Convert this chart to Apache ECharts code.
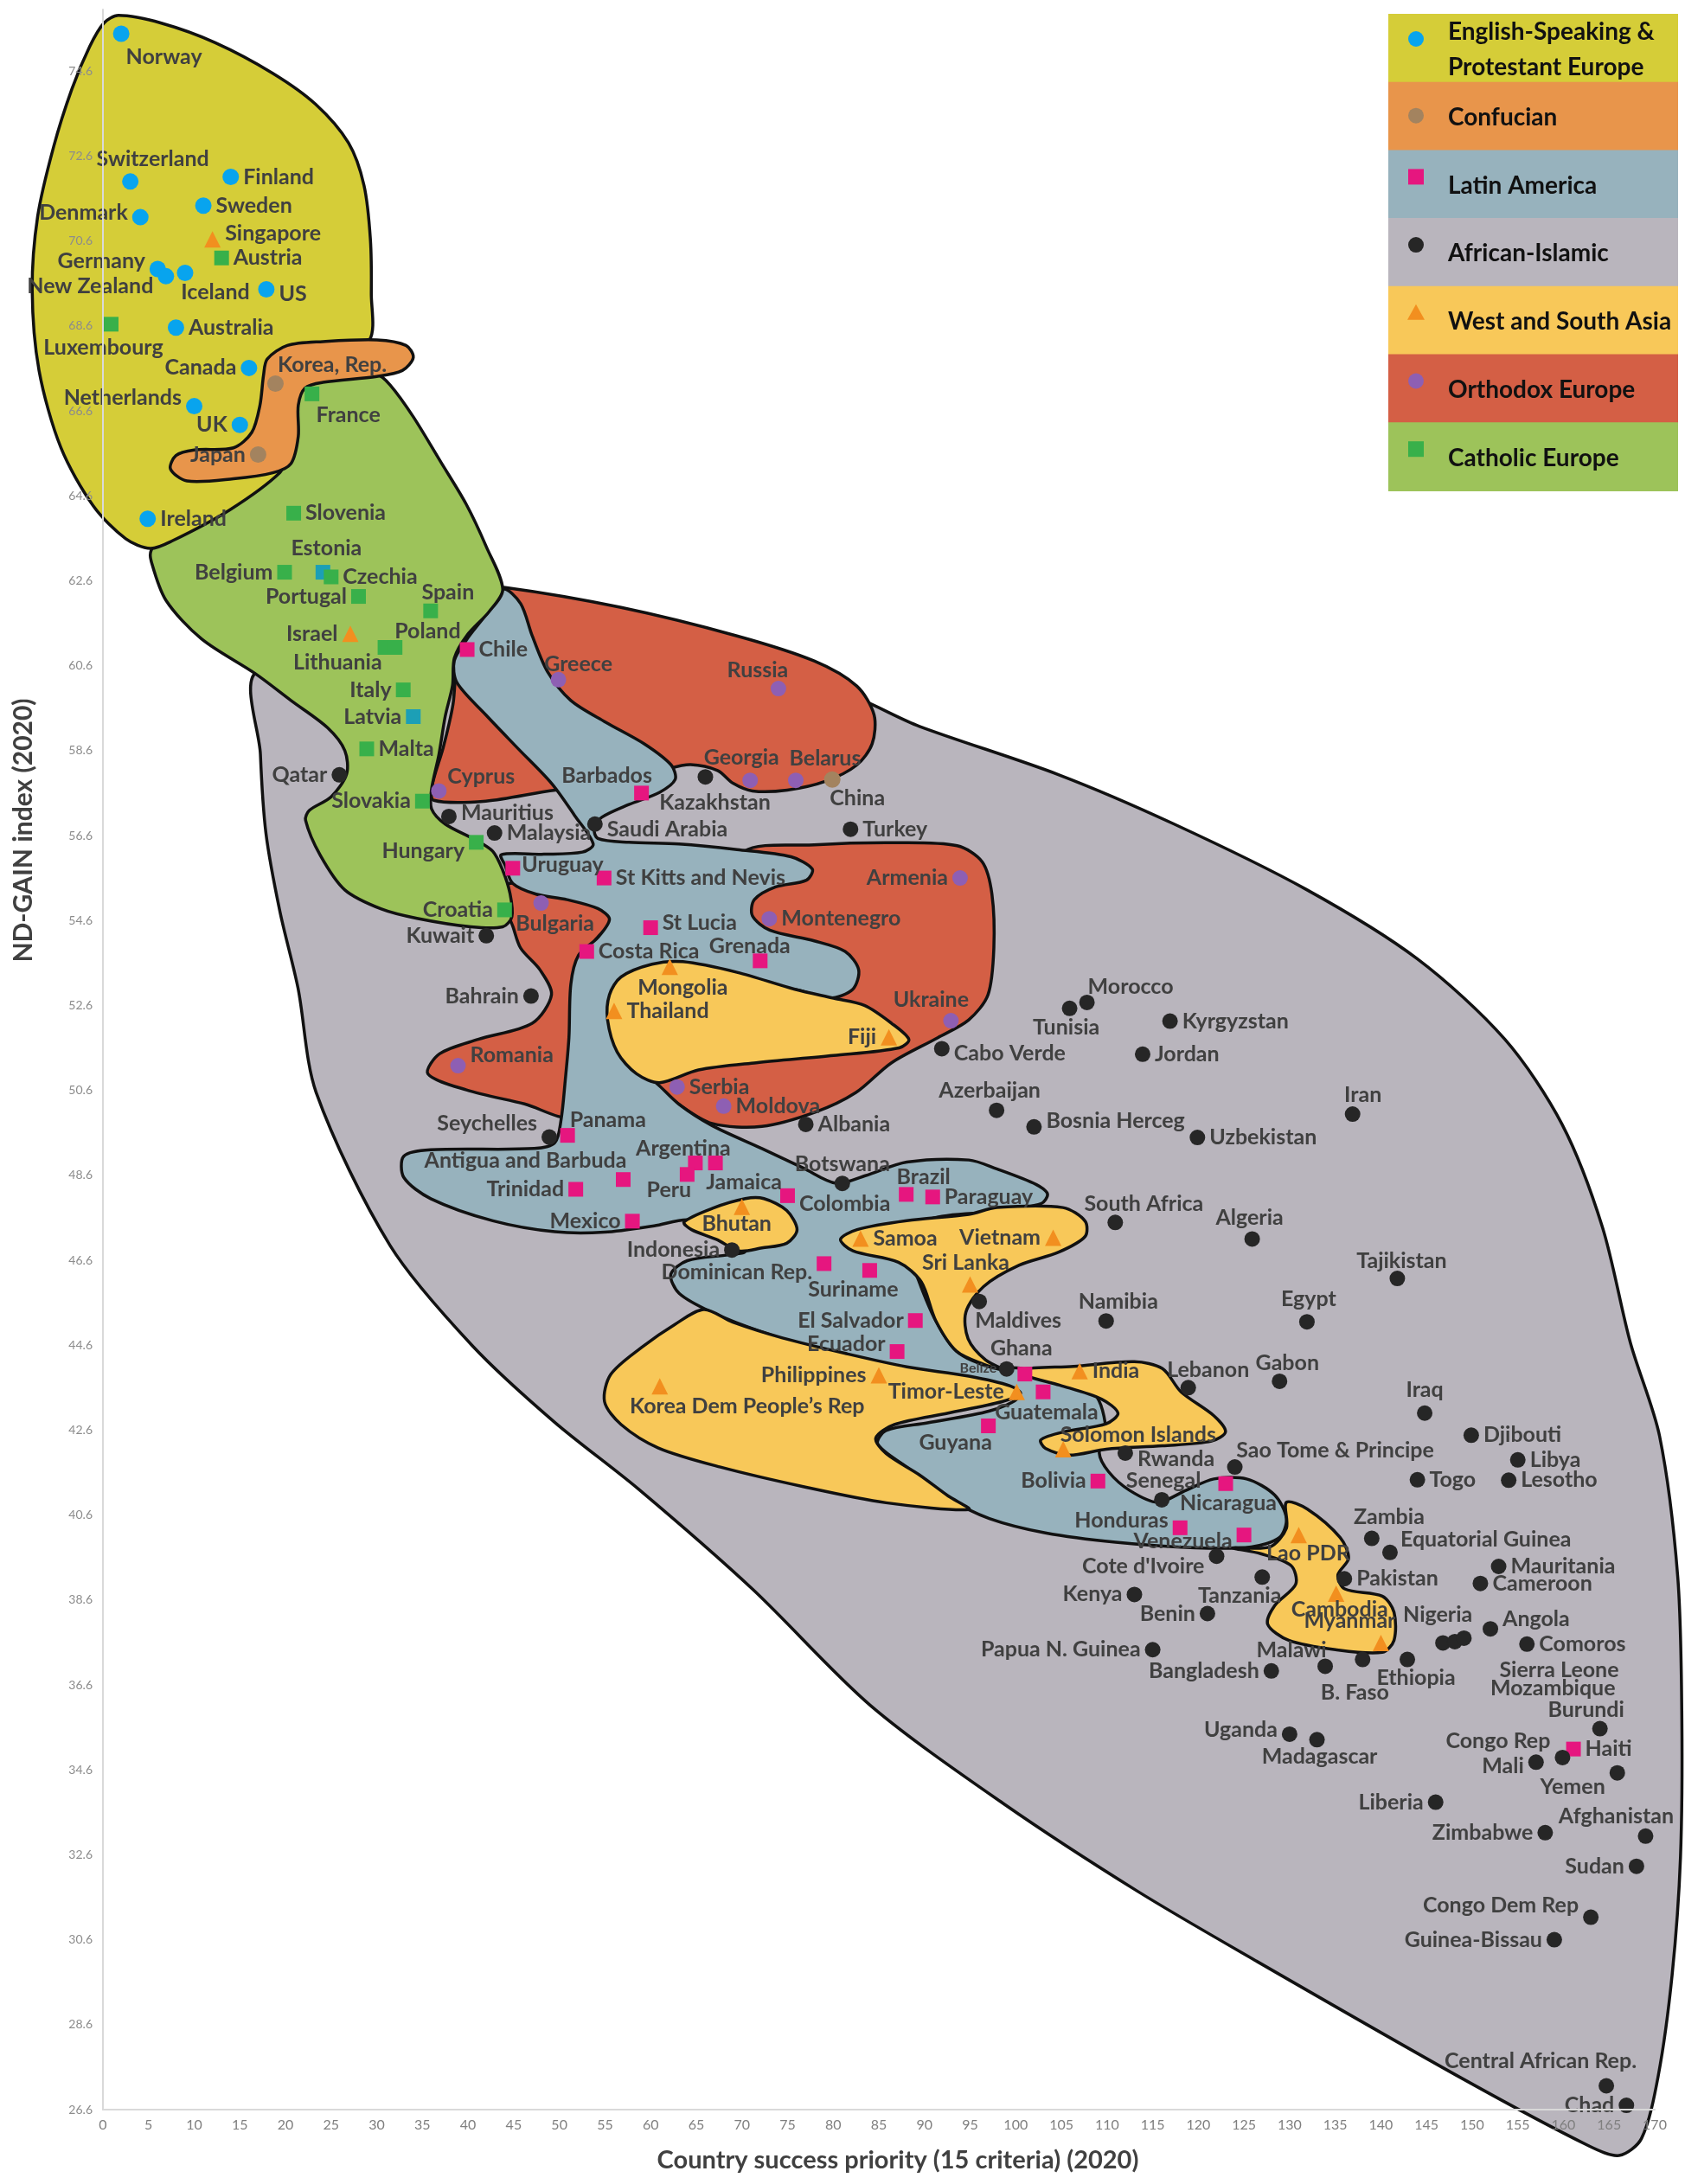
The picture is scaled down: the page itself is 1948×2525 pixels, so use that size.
<!DOCTYPE html>
<html><head><meta charset="utf-8">
<script src="https://cdn.jsdelivr.net/npm/echarts@6/dist/echarts.min.js"></script>
<style>html,body{margin:0;padding:0;background:#fff}#c{width:1948px;height:2525px}</style>
</head><body><div id="c"></div>
<script>
// ---------- DATA ----------
const categories = ['English-Speaking & Protestant Europe','Confucian','Latin America','African-Islamic','West and South Asia','Orthodox Europe','Catholic Europe'];
const yTickValues = [26.6,28.6,30.6,32.6,34.6,36.6,38.6,40.6,42.6,44.6,46.6,48.6,50.6,52.6,54.6,56.6,58.6,60.6,62.6,64.6,66.6,68.6,70.6,72.6,74.6];

const englishSpeaking = [['Norway',2.0,75.48],['Switzerland',3.0,72.0],['Finland',14.0,72.11],['Sweden',11.0,71.43],['Denmark',4.1,71.16],['Germany',6.0,69.94],['New Zealand',6.9,69.77],['Iceland',9.0,69.85],['US',17.9,69.46],['Australia',8.0,68.56],['Canada',16.0,67.61],['Netherlands',10.0,66.71],['UK',15.0,66.27],['Ireland',4.9,64.06]];
const confucian = [['Korea, Rep.',18.9,67.24],['Japan',17.0,65.57],['China',79.9,57.92]];
const latinAmerica = [['Chile',39.9,60.98],['Barbados',59.0,57.6],['Uruguay',44.9,55.83],['St Kitts and Nevis',54.9,55.6],['St Lucia',60.0,54.43],['Costa Rica',53.0,53.87],['Grenada',72.0,53.65],['Panama',50.9,49.54],['Antigua and Barbuda',57.0,48.5],['Trinidad',51.8,48.27],['Argentina',64.9,48.89],['Jamaica',67.1,48.89],['Peru',64.0,48.62],['Mexico',58.0,47.52],['Colombia',75.0,48.12],['Brazil',88.0,48.15],['Paraguay',90.9,48.09],['Dominican Rep.',79.0,46.52],['Suriname',84.0,46.36],['El Salvador',89.0,45.18],['Ecuador',87.0,44.45],['Belize',101.0,43.92],['Guatemala',103.0,43.5],['Guyana',97.0,42.7],['Bolivia',109.0,41.4],['Nicaragua',123.0,41.34],['Honduras',118.0,40.3],['Venezuela',125.0,40.13],['Haiti',161.1,35.09]];
const africanIslamic = [['Qatar',25.9,58.03],['Kazakhstan',66.0,57.98],['Saudi Arabia',53.9,56.87],['Mauritius',37.9,57.05],['Malaysia',42.9,56.66],['Turkey',81.9,56.75],['Kuwait',42.0,54.24],['Bahrain',46.9,52.82],['Cabo Verde',91.9,51.58],['Morocco',107.8,52.67],['Tunisia',105.9,52.53],['Kyrgyzstan',116.9,52.23],['Jordan',113.9,51.45],['Azerbaijan',97.9,50.13],['Albania',77.0,49.8],['Bosnia Herceg',102.0,49.74],['Uzbekistan',119.9,49.49],['Iran',136.9,50.04],['Seychelles',48.9,49.5],['Botswana',81.0,48.41],['Indonesia',68.9,46.84],['South Africa',110.9,47.49],['Algeria',125.9,47.1],['Tajikistan',141.8,46.17],['Maldives',96.0,45.63],['Namibia',109.9,45.17],['Egypt',131.9,45.15],['Ghana',99.0,44.04],['Lebanon',118.9,43.6],['Gabon',128.9,43.75],['Iraq',144.8,43.0],['Djibouti',149.9,42.48],['Libya',155.0,41.9],['Lesotho',154.0,41.42],['Togo',144.0,41.43],['Rwanda',112.0,42.06],['Sao Tome & Principe',124.0,41.73],['Senegal',116.0,40.96],['Zambia',139.0,40.05],['Equatorial Guinea',141.0,39.72],["Cote d'Ivoire",122.0,39.63],['Mauritania',152.9,39.39],['Cameroon',150.9,38.99],['Pakistan',136.0,39.1],['Tanzania',127.0,39.14],['Kenya',113.0,38.73],['Benin',121.0,38.28],['Nigeria',146.8,37.59],['Mozambique',148.1,37.62],['Sierra Leone',149.1,37.7],['Angola',152.0,37.92],['Comoros',156.0,37.56],['Papua N. Guinea',115.0,37.43],['Malawi',133.9,37.04],['Bangladesh',128.0,36.93],['B. Faso',138.0,37.2],['Ethiopia',142.9,37.2],['Uganda',130.0,35.44],['Madagascar',133.0,35.31],['Burundi',164.0,35.57],['Congo Rep',159.9,34.89],['Mali',157.0,34.78],['Yemen',165.9,34.53],['Liberia',146.0,33.84],['Zimbabwe',158.0,33.12],['Afghanistan',169.0,33.04],['Sudan',168.0,32.33],['Congo Dem Rep',163.0,31.13],['Guinea-Bissau',159.0,30.6],['Central African Rep.',164.7,27.16],['Chad',166.9,26.7]];
const westSouthAsia = [['Singapore',12.0,70.64],['Israel',27.1,61.35],['Mongolia',62.1,53.51],['Thailand',56.0,52.47],['Fiji',86.1,51.85],['Bhutan',70.0,47.86],['Samoa',83.0,47.11],['Vietnam',104.1,47.13],['Sri Lanka',95.0,46.03],['Korea Dem People\u2019s Rep',61.0,43.63],['Philippines',85.0,43.89],['Timor-Leste',100.1,43.5],['India',107.0,43.99],['Solomon Islands',105.2,42.15],['Lao PDR',131.0,40.13],['Cambodia',135.1,38.75],['Myanmar',140.0,37.59]];
const orthodoxEurope = [['Greece',49.9,60.27],['Russia',74.0,60.06],['Cyprus',36.8,57.65],['Georgia',70.9,57.9],['Belarus',75.9,57.9],['Armenia',93.9,55.6],['Montenegro',73.0,54.64],['Bulgaria',48.0,55.01],['Ukraine',92.9,52.24],['Romania',38.9,51.18],['Serbia',62.9,50.68],['Moldova',68.0,50.23]];
const catholicEurope = [['Austria',13.0,70.2],['Luxembourg',0.9,68.64],['France',22.9,67.0],['Slovenia',20.9,64.19],['Belgium',19.9,62.8],['Estonia',24.1,62.8],['Czechia',25.0,62.69],['Portugal',28.0,62.23],['Spain',35.9,61.89],['Lithuania',30.9,61.03],['Poland',32.0,61.03],['Italy',32.9,60.03],['Latvia',34.0,59.4],['Malta',28.9,58.64],['Slovakia',35.0,57.41],['Hungary',40.9,56.44],['Croatia',44.0,54.85]];
const tealMarked = ['Estonia','Latvia'];

// Region outlines (data units: [x, y])
const africanOutline = [[17.10,60.48],[49.77,60.81],[80.30,59.99],[89.46,59.17],[104.73,58.03],[117.25,56.88],[131.75,55.34],[143.97,53.70],[153.59,51.80],[159.85,49.80],[164.27,47.38],[167.33,44.66],[170.53,42.46],[172.52,39.15],[172.97,35.84],[172.82,32.53],[171.91,29.78],[170.38,27.39],[168.55,25.92],[166.10,25.52],[162.75,25.75],[149.01,27.32],[126.26,30.11],[113.28,31.75],[98.62,33.81],[84.12,36.11],[71.14,38.86],[58.62,41.22],[49.46,42.79],[40.46,44.59],[31.45,46.95],[23.36,50.55],[21.37,53.01],[19.39,54.81],[17.86,56.65],[17.25,58.52]];
const orthodoxOutlineA = [[44.07,62.44],[56.76,61.97],[69.46,61.30],[77.92,60.71],[82.58,60.12],[84.48,59.44],[84.27,58.76],[82.58,58.26],[79.19,57.88],[74.96,57.67],[71.15,57.65],[69.03,57.83],[67.34,58.13],[64.38,58.27],[61.84,58.17],[55.07,57.75],[49.57,57.67],[41.95,57.41],[36.24,57.43],[36.03,57.75],[37.29,58.68],[38.35,59.69],[38.78,60.71],[39.83,61.55],[41.95,62.4]];
const orthodoxOutlineC = [[70.30,56.23],[77.92,56.38],[86.39,56.43],[93.58,56.36],[96.33,55.98],[97.39,55.22],[97.60,53.95],[96.96,52.85],[94.85,52.26],[91.46,51.84],[86.39,51.25],[82.5,50.55],[78.08,50.09],[72.19,49.75],[66.74,49.82],[63.12,50.27],[60.39,50.77],[62.0,52.0],[67.0,53.0],[70.5,54.0],[70.8,55.2]];
const orthodoxOutlineD = [[44.49,55.47],[49.14,55.26],[53.80,55.01],[55.92,54.71],[55.07,54.41],[53.38,53.95],[52.95,52.68],[52.53,50.99],[51.26,49.98],[46.18,50.28],[39.83,50.61],[35.6,50.99],[36.87,51.46],[41.1,51.8],[47.03,52.18],[49.14,52.85],[47.87,53.44],[45.76,53.95],[44.91,54.46],[44.07,54.96]];
const latinOutline = [[43.85,62.40],[45.76,62.06],[47.03,61.30],[48.72,60.45],[51.26,59.78],[55.07,59.27],[59.30,58.76],[62.26,58.26],[62.69,57.92],[61.0,57.62],[57.61,57.33],[54.65,57.03],[53.80,56.78],[54.22,56.53],[57.61,56.44],[63.11,56.40],[69.46,56.27],[75.38,56.10],[77.71,55.81],[77.07,55.55],[73.69,55.39],[71.36,55.09],[71.15,54.71],[73.05,54.37],[77.92,54.12],[81.31,53.87],[82.79,53.44],[82.15,52.98],[79.61,52.77],[75.38,52.98],[67.34,52.68],[61.0,51.84],[58.45,51.08],[60.57,50.78],[63.12,50.27],[66.74,49.77],[72.19,49.23],[76.72,48.77],[80.35,48.41],[83.52,48.59],[88.06,48.91],[94.86,48.96],[97.92,48.75],[102.27,48.38],[103.48,48.16],[102.76,47.93],[97.92,47.75],[90.67,47.57],[88.06,47.0],[89.42,46.09],[91.23,45.18],[93.5,44.46],[97.13,44.09],[100.69,44.05],[108.38,43.50],[109.9,42.6],[109.15,42.06],[110.17,41.62],[112.48,41.18],[115.55,40.90],[118.63,41.18],[121.70,41.45],[125.29,41.45],[128.37,41.07],[129.65,40.52],[128.88,40.07],[125.80,39.85],[119.65,39.83],[110.94,39.96],[103.25,40.18],[97.10,40.52],[92.59,41.0],[88.06,41.73],[84.88,42.27],[85.79,42.59],[90.33,42.77],[97.13,43.05],[100.3,43.37],[98.49,43.64],[92.59,43.87],[85.79,44.14],[78.99,44.46],[72.19,44.91],[66.74,45.37],[63.12,45.82],[62.21,46.27],[64.02,46.59],[68.56,46.73],[70.37,46.82],[67.65,47.37],[64.02,47.55],[60.39,47.41],[54.95,47.26],[49.51,47.27],[42.71,47.53],[35.91,48.05],[32.96,48.55],[32.96,49.05],[35.91,49.2],[47.24,49.23],[49.51,49.37],[50.19,49.91],[50.64,50.82],[51.05,51.84],[51.26,53.10],[52.1,53.78],[54.22,54.20],[55.49,54.63],[54.22,54.88],[50.84,55.09],[47.45,55.22],[44.91,55.47],[44.07,55.89],[43.64,56.15],[48.30,56.16],[52.53,56.21],[53.71,56.40],[51.68,57.07],[49.14,57.83],[45.33,58.68],[41.95,59.44],[38.78,60.20],[38.48,60.71],[39.83,61.21],[41.95,61.80]];
const asiaOutline1 = [[56.76,53.27],[60.15,53.57],[63.53,53.63],[69.46,53.38],[75.80,52.98],[80.04,52.77],[83.42,52.60],[86.39,52.18],[88.29,51.80],[87.23,51.60],[80.04,51.42],[71.57,51.25],[65.23,51.08],[61.0,50.78],[58.45,50.99],[56.34,51.5],[55.28,52.26],[55.49,52.85]];
const asiaOutline2 = [[63.66,47.50],[66.74,47.82],[70.37,48.05],[72.41,48.05],[74.91,47.77],[76.04,47.32],[74.91,47.0],[72.19,46.89],[69.69,46.82],[67.20,47.09],[64.48,47.32]];
const asiaOutline3 = [[80.80,47.09],[82.62,47.32],[88.06,47.53],[94.86,47.68],[97.92,47.84],[105.17,47.84],[107.6,47.52],[107.6,47.16],[104.7,46.79],[100.34,46.48],[96.47,45.98],[94.54,45.38],[94.78,44.75],[96.71,44.25],[99.13,43.98],[96.5,44.15],[93.5,44.46],[91.23,45.18],[89.65,46.09],[87.15,46.55],[82.16,46.82]];
const asiaOutline4 = [[100.69,44.03],[106.33,44.10],[112.99,44.21],[116.07,44.05],[118.11,43.50],[121.70,42.94],[122.98,42.56],[121.45,42.34],[116.07,42.23],[109.91,42.15],[105.81,42.01],[103.25,42.17],[102.74,42.37],[105.30,42.56],[109.91,42.75],[111.20,43.0],[109.40,43.33],[104.79,43.66],[101.2,43.88]];
const asiaOutline5 = [[123.75,39.83],[127.85,39.85],[129.65,40.29],[129.65,40.90],[131.95,40.74],[135.54,40.07],[136.46,39.58],[135.29,39.19],[136.05,38.86],[140.15,38.69],[141.44,38.31],[141.44,37.65],[140.15,37.37],[135.03,37.43],[129.90,37.65],[127.60,38.03],[128.37,38.47],[130.67,38.97],[130.16,39.41],[126.83,39.69]];
const asiaOutline6 = [[65.84,45.44],[69.01,45.14],[74.45,44.77],[81.26,44.41],[88.06,44.09],[94.86,43.87],[99.40,43.64],[100.53,43.46],[98.49,43.27],[92.59,43.0],[86.70,42.73],[84.66,42.41],[85.79,42.05],[89.42,41.55],[92.59,41.05],[94.86,40.73],[85.79,40.89],[76.72,41.27],[67.65,41.73],[60.85,42.18],[56.77,42.73],[54.95,43.27],[55.63,43.91],[59.03,44.55],[62.66,45.09]];
const catholicOutline = [[18.0,67.2],[24.0,67.3],[30.0,67.45],[31.5,67.2],[34.0,66.46],[37.0,65.4],[39.8,64.4],[42.0,63.4],[43.8,62.4],[42.3,61.87],[39.9,61.32],[38.5,60.78],[38.3,60.14],[37.5,59.41],[36.8,58.5],[36.0,57.69],[36.0,57.23],[37.5,56.87],[40.7,56.51],[42.7,56.23],[43.8,55.78],[44.6,55.23],[44.8,54.69],[43.8,54.45],[40.3,54.45],[34.4,54.65],[30.5,54.87],[26.5,55.32],[23.8,56.14],[22.2,56.96],[22.6,57.19],[25.0,57.51],[26.7,58.05],[26.5,58.6],[24.6,59.14],[20.6,59.78],[16.7,60.41],[10.8,61.23],[6.9,62.14],[5.3,63.05],[5.3,63.32],[8,64.2],[14,65.0],[17,66.0]];
const englishOutline = [[1.7,75.91],[6.4,75.73],[12.3,75.27],[18.6,74.55],[23.3,73.82],[26.9,72.91],[28.6,71.91],[29.3,70.64],[29.4,69.36],[29.2,68.27],[25.0,67.9],[20.5,67.5],[19.6,66.5],[19.8,65.5],[19.4,65.15],[13.9,64.27],[7.6,63.54],[5.2,63.36],[2.5,63.59],[-1.05,64.36],[-4.6,65.73],[-7.0,67.55],[-7.75,69.45],[-7.15,71.18],[-5.4,72.82],[-3.4,74.18],[-1.45,75.18],[0.1,75.73]];
const confucianOutline = [[18.0,67.82],[20.2,68.14],[24.1,68.23],[30.0,68.27],[33.2,68.14],[34.0,67.86],[32.8,67.55],[30.0,67.41],[24.1,67.27],[22.15,67.14],[21.4,66.73],[21.4,66.0],[20.6,65.36],[18.6,65.14],[14.3,65.0],[9.2,64.95],[7.4,65.23],[8.0,65.55],[10.0,65.68],[14.3,65.73],[16.3,66.09],[17.2,66.73],[17.6,67.45]];

// ---------- STYLE / LAYOUT ----------
const FILL = {english:'#d5cd38', confucian:'#e8954b', latin:'#97b2bd', african:'#b9b5bd', asia:'#f8c859', orthodox:'#d45f45', catholic:'#9dc35a'};
const BLOBS = [
  {o:africanOutline, f:FILL.african},
  {o:orthodoxOutlineA, f:FILL.orthodox},
  {o:orthodoxOutlineC, f:FILL.orthodox},
  {o:orthodoxOutlineD, f:FILL.orthodox},
  {o:latinOutline, f:FILL.latin},
  {o:asiaOutline1, f:FILL.asia},
  {o:asiaOutline2, f:FILL.asia},
  {o:asiaOutline3, f:FILL.asia},
  {o:asiaOutline4, f:FILL.asia},
  {o:asiaOutline5, f:FILL.asia},
  {o:asiaOutline6, f:FILL.asia},
  {o:catholicOutline, f:FILL.catholic},
  {o:englishOutline, f:FILL.english},
  {o:confucianOutline, f:FILL.confucian}
];
const GROUPS = [
  {data:englishSpeaking, symbol:'circle', color:'#08a4ee', size:19, fill:FILL.english},
  {data:confucian, symbol:'circle', color:'#a3835f', size:19, fill:FILL.confucian},
  {data:latinAmerica, symbol:'rect', color:'#e6167f', size:17, fill:FILL.latin},
  {data:africanIslamic, symbol:'circle', color:'#262626', size:18, fill:FILL.african},
  {data:westSouthAsia, symbol:'triangle', color:'#f28f1f', size:19, fill:FILL.asia},
  {data:orthodoxEurope, symbol:'circle', color:'#8e5fb3', size:18, fill:FILL.orthodox},
  {data:catholicEurope, symbol:'rect', color:'#38b04a', size:17, fill:FILL.catholic}
];
const LABEL_LAYOUT = {
 'Norway':['r',-9,27],'Switzerland':['t',26,1],'Denmark':['l',0,-5],'Germany':['l',0,-9],'New Zealand':['l',0,12],'Iceland':['b',35,-4],'US':['r',0,5],'Canada':'l','Netherlands':['l',0,-10],'UK':'l',
 'Korea, Rep.':['r',-12,-22],'Japan':'l','China':['b',29,-5],
 'Singapore':['r',0,-7],'Luxembourg':['b',-9,1],'France':['b',42,-1],'Belgium':'l','Estonia':['t',4,-2],'Portugal':'l','Spain':['t',20,5],'Israel':'l','Poland':['r',-14,-19],'Lithuania':['l',10,17],'Italy':'l','Latvia':'l','Qatar':'l','Slovakia':'l','Hungary':['l',0,10],'Croatia':'l',
 'Greece':['t',23,9],'Russia':['t',-24,5],'Cyprus':['r',-4,-17],'Barbados':['t',-40,6],'Kazakhstan':['b',11,3],'Georgia':['t',-10,0],'Belarus':['t',34,1],'Mauritius':['r',0,-4],'Saudi Arabia':['r',0,6],'Uruguay':['r',-3,-4],'Armenia':'l','Bulgaria':['b',16,-3],'Kuwait':'l','St Lucia':['r',0,-6],'Grenada':['t',-12,9],'Mongolia':['b',15,-3],'Bahrain':'l','Fiji':'l','Ukraine':['t',-23,2],'Cabo Verde':['r',0,5],'Morocco':['r',-13,-18],'Tunisia':['b',-4,-4],'Romania':['r',0,-12],'Azerbaijan':['t',-8,4],'Bosnia Herceg':['r',0,-7],'Iran':['t',12,4],
 'Seychelles':['l',0,-16],'Panama':['r',-11,-18],'Antigua and Barbuda':['t',-113,4],'Trinidad':'l','Argentina':['t',-14,9],'Jamaica':['b',33,-4],'Peru':['b',-21,-8],'Mexico':'l','Botswana':['t',0,4],'Colombia':['r',0,10],'Brazil':['t',20,6],'Bhutan':['b',-6,-7],'Indonesia':'l','South Africa':['t',33,5],'Vietnam':'l','Algeria':['t',-3,2],'Sri Lanka':['t',-5,2],'Dominican Rep.':['l',0,10],'Suriname':['b',-19,-4],'Tajikistan':['t',5,6],'Maldives':['b',45,-4],'Namibia':['t',14,4],'Egypt':['t',2,0],'El Salvador':'l','Ecuador':['l',0,-9],'Ghana':['t',17,3],'Belize':['l',-19,-7],'Lebanon':['t',23,6],'Gabon':['t',9,6],'Philippines':'l','Timor-Leste':'l','Korea Dem People\u2019s Rep':['b',101,-4],'Iraq':'t','Guatemala':['b',4,-2],'Guyana':['b',-38,-7],'Solomon Islands':['r',-18,-17],
 'Sao Tome & Principe':['t',116,7],'Rwanda':['r',0,7],'Bolivia':'l','Senegal':['t',2,5],'Nicaragua':['b',3,-3],'Honduras':['l',0,-8],'Zambia':['t',20,2],'Venezuela':['l',0,7],'Lao PDR':['b',11,-6],'Equatorial Guinea':['r',-2,-15],"Cote d'Ivoire":['l',0,12],'Tanzania':['b',-26,-5],'Kenya':'l','Benin':'l','Cambodia':['b',4,-8],'Myanmar':['t',-36,2],'Nigeria':['t',-6,-6],'Angola':['r',0,-11],'Papua N. Guinea':'l','Malawi':['t',-39,8],'Bangladesh':'l','B. Faso':['b',-9,12],'Ethiopia':['b',10,-5],'Sierra Leone':['r',27,37],'Mozambique':['r',27,54],'Burundi':['t',-16,5],'Uganda':['l',0,-5],'Madagascar':['b',3,-7],'Congo Rep':['l',0,-19],'Mali':['l',0,5],'Yemen':['l',0,16],'Liberia':'l','Afghanistan':['t',-34,4],'Zimbabwe':'l','Sudan':'l','Congo Dem Rep':['l',0,-14],'Guinea-Bissau':'l','Central African Rep.':['t',-76,-2],'Chad':'l'
};
const POS = {r:'right', l:'left', t:'top', b:'bottom'};
function labelFor(name){
  let s = LABEL_LAYOUT[name] || 'r';
  if (typeof s === 'string') s = [s,0,0];
  const o = {position: POS[s[0]], offset: [s[1], s[2]]};
  if (name === 'Belize') o.fontSize = 16;
  return o;
}

const chart = echarts.init(document.getElementById('c'), null, {renderer:'canvas'});

const blobSeries = {
  type:'custom', coordinateSystem:'cartesian2d', silent:true, z:1, clip:false,
  data: BLOBS.map(b => b.o[0]),
  encode:{x:0, y:1},
  renderItem: function(params, api){
    const b = BLOBS[params.dataIndex];
    return {type:'polygon', shape:{points: b.o.map(p => api.coord(p)), smooth:0.3},
            style:{fill:b.f, stroke:'#111', lineWidth:3.5}};
  }
};

const scatterSeries = GROUPS.map((g, i) => ({
  type:'scatter', name: categories[i], symbol:g.symbol, symbolSize:g.size, z:5,
  itemStyle:{color:g.color, opacity:1},
  label:{show:true, formatter:'{b}', fontFamily:'Lato', fontWeight:'bold', fontSize:25, color:'#404040', distance:5},
  data: g.data.map(([n,x,y]) => {
    const d = {name:n, value:[x,y], label:labelFor(n)};
    if (tealMarked.includes(n)) d.itemStyle = {color:'#1c9fb6'};
    return d;
  })
}));

// legend built as graphics
const LEG = {x:1605, y:16, w:335, h:78.7, mx:1637, tx:1674};
const legendEls = [];
GROUPS.forEach((g, i) => {
  const top = LEG.y + i*LEG.h;
  legendEls.push({type:'rect', shape:{x:LEG.x, y:top, width:LEG.w, height:LEG.h+1}, style:{fill:g.fill}, z:100});
  const cy = i === 0 ? top+29 : (i === 1 ? top+39 : top+31);
  let icon;
  if (g.symbol === 'circle') icon = {type:'circle', shape:{cx:LEG.mx, cy:cy, r:9}};
  else if (g.symbol === 'rect') icon = {type:'rect', shape:{x:LEG.mx-9, y:cy-9, width:18, height:18}};
  else icon = {type:'polygon', shape:{points:[[LEG.mx, cy-10],[LEG.mx+10, cy+8],[LEG.mx-10, cy+8]]}};
  icon.style = {fill:g.color}; icon.z = 101;
  legendEls.push(icon);
  legendEls.push({type:'text', x:LEG.tx, y: top + LEG.h/2 + 2, z:101,
    style:{text: i === 0 ? 'English-Speaking &\nProtestant Europe' : categories[i], font:'bold 28px Lato', fill:'#111', align:'left', verticalAlign:'middle', lineHeight:41}});
});
legendEls.push({type:'text', x:27, y:960, rotation:Math.PI/2, z:101,
  style:{text:'ND-GAIN index (2020)', font:'bold 30px Lato', fill:'#404040', align:'center', verticalAlign:'middle'}});

chart.setOption({
  animation:false,
  backgroundColor:'#ffffff',
  grid:{left:119, right:35, top:11, bottom:86, containLabel:false},
  xAxis:{type:'value', min:0, max:170, interval:5, z:10,
    axisLine:{show:true, lineStyle:{color:'#d9d9d9', width:2}}, axisTick:{show:false}, splitLine:{show:false},
    axisLabel:{color:'#7f7f7f', fontSize:16, fontFamily:'Lato', margin:10},
    name:'Country success priority (15 criteria) (2020)', nameLocation:'middle', nameGap:44,
    nameTextStyle:{fontFamily:'Lato', fontWeight:'bold', fontSize:29, color:'#404040', padding:[0,0,0,44]}},
  yAxis:{type:'value', min:26.6, max:76.05, z:10,
    axisLine:{show:true, lineStyle:{color:'#d9d9d9', width:2}}, axisTick:{show:false}, splitLine:{show:false},
    axisLabel:{customValues: yTickValues, color:'#8c8c8c', fontSize:14, fontFamily:'Lato', margin:12, formatter: v => Number(v).toFixed(1)}},
  graphic: legendEls,
  series:[blobSeries].concat(scatterSeries)
});
</script></body></html>
